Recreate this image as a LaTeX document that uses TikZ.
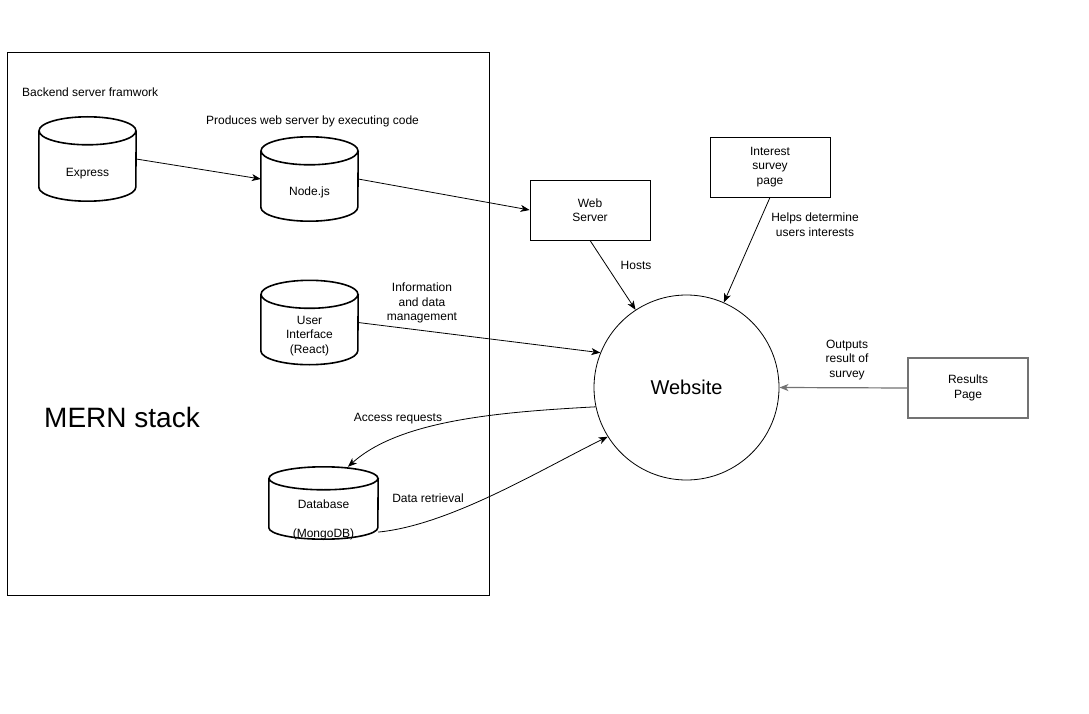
\documentclass[tikz,border=0pt]{standalone}
\usepackage{fontspec}
\setmainfont{Liberation Sans}
\usetikzlibrary{positioning,arrows.meta}

\begin{document}
\begin{tikzpicture}[x=1pt,y=-1pt,
        font=\fontsize{12}{14.5}\selectfont,
        every node/.style={align=center,inner sep=0pt},
        every label/.style={align=center,inner sep=0pt},
        store/.style={minimum width=97pt,minimum height=84pt},
        box/.style={draw,line width=0.8pt,minimum width=120pt,minimum height=60pt},
        link/.style={-{Stealth[length=9pt,width=7pt,inset=2.5pt]},line width=0.8pt}]
    \useasboundingbox[fill=white] (0,0) rectangle (1089,714);
    \draw[line width=0.8pt] (7,52) rectangle (489,595);
    \node[anchor=west] (backend) at (22,92) {Backend server framwork};
    \node (produces) at (312.5,121.5) {Produces web server by executing code};
    \node[font=\fontsize{28}{30}\selectfont] (mern) at (122,417) {MERN stack};

    \node[store,label={[yshift=-15pt]center:Express}] (express) at (87.5,159) {};
    \node[store,label={[yshift=-13pt]center:Node.js}] (nodejs) at (309.5,179) {};
    \node[store,label={[yshift=-13.5pt]center:User\\Interface\\(React)}] (ui) at (309.5,322.5) {};
    \node[store,minimum width=109pt,minimum height=72pt,label={[yshift=-16.5pt]center:Database\\[14.5pt](MongoDB)}] (db) at (323.5,503) {};
    \foreach \n/\rx/\ry in {express/48.5/14,nodejs/48.5/14,ui/48.5/14,db/54.5/11.5}
        \draw[line width=1.6pt] ([yshift=-\ry pt]\n.north) ellipse [x radius=\rx pt,y radius=\ry pt]
            ([yshift=-\ry pt]\n.north west) -- ([yshift=\ry pt]\n.south west)
            arc[start angle=180,end angle=360,x radius=\rx pt,y radius=\ry pt] -- ([yshift=-\ry pt]\n.north east);

    \node[box] (webserver) at (590,210) {Web\\Server};
    \node[box] (survey) at (770,167) {Interest\\survey\\page};
    \node[box,draw=black!55,line width=1.2pt] (results) at (968,388) {Results\\Page};
    \node[circle,draw,line width=0.8pt,minimum size=185pt,font=\fontsize{20}{24}\selectfont] (website) at (686.5,387.5) {Website};

    \node (info) at (422,303) {Information\\and data\\management};
    \node (hosts) at (636,265) {Hosts};
    \node (helps) at (815,224.5) {Helps determine\\users interests};
    \node (outputs) at (847,360) {Outputs\\result of\\survey};
    \node (access) at (398,419) {Access requests};
    \node (retrieval) at (428,498) {Data retrieval};

    \draw[link] (express.east) -- (nodejs.west);
    \draw[link] (nodejs.east) -- (webserver.west);
    \draw[link] (webserver.south) -- (website);
    \draw[link] (survey.south) -- (website);
    \draw[link] (ui.east) -- (website.158);
    \draw[link,draw=black!55,line width=1.2pt] (results.west) -- (website.east);
    \draw[link] (website.192) .. controls (500,412) and (400,420) .. (db.56);
    \draw[link] (db.-28) .. controls (450,525) and (540,470) .. (website.212);
\end{tikzpicture}
\end{document}
